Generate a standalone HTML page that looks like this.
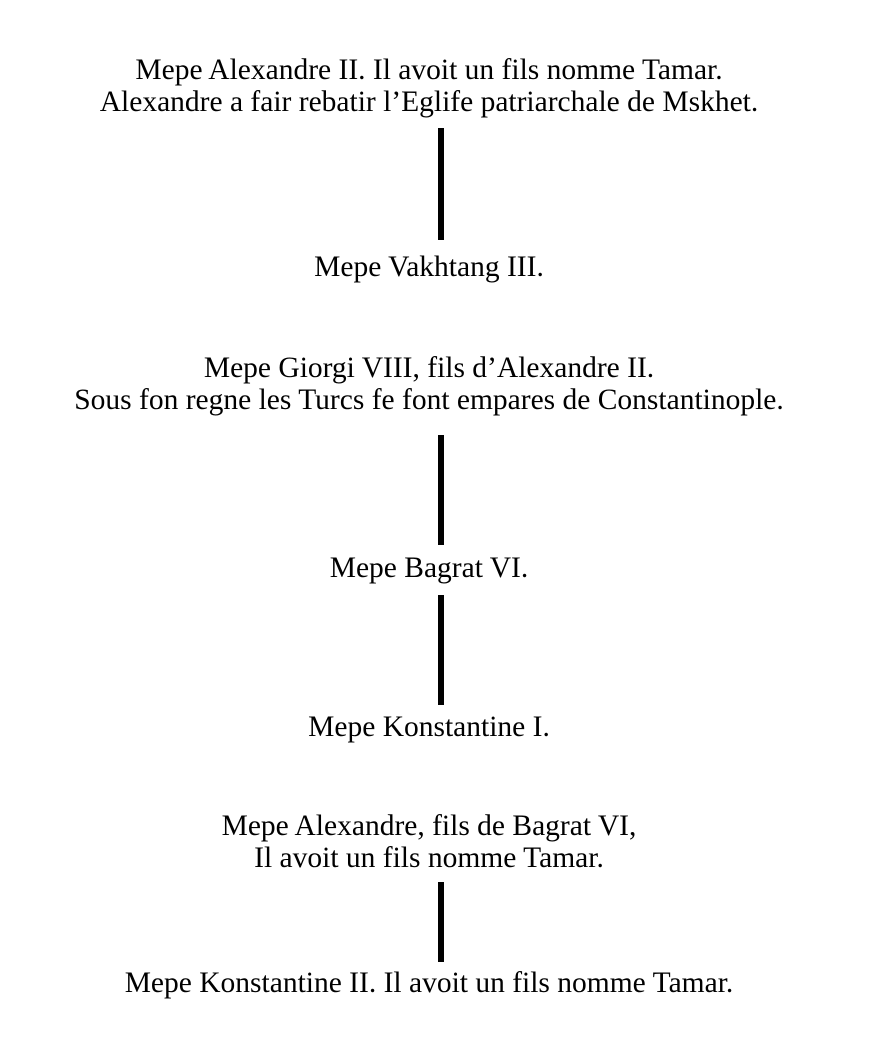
<!DOCTYPE html>
<html><head><meta charset="utf-8"><style>
html,body{margin:0;padding:0;background:#fff;}
body{width:870px;height:1054px;position:relative;overflow:hidden;font-family:"Liberation Serif",serif;font-size:29.5px;color:#000;}
.t{position:absolute;left:0;width:858px;text-align:center;line-height:32px;white-space:nowrap;}
.b{position:absolute;left:438px;width:6px;background:#000;}
</style></head><body>
<div class="t" style="top:54px">Mepe Alexandre II. Il avoit un fils nomme Tamar.<br>Alexandre a fair rebatir l’Eglife patriarchale de Mskhet.</div>
<div class="b" style="top:128px;height:112px"></div>
<div class="t" style="top:251px">Mepe Vakhtang III.</div>
<div class="t" style="top:352px">Mepe Giorgi VIII, fils d’Alexandre II.<br>Sous fon regne les Turcs fe font empares de Constantinople.</div>
<div class="b" style="top:435px;height:110px"></div>
<div class="t" style="top:552px">Mepe Bagrat VI.</div>
<div class="b" style="top:595px;height:110px"></div>
<div class="t" style="top:711px">Mepe Konstantine I.</div>
<div class="t" style="top:810px">Mepe Alexandre, fils de Bagrat VI,<br>Il avoit un fils nomme Tamar.</div>
<div class="b" style="top:882px;height:80px"></div>
<div class="t" style="top:967px">Mepe Konstantine II. Il avoit un fils nomme Tamar.</div>
</body></html>
